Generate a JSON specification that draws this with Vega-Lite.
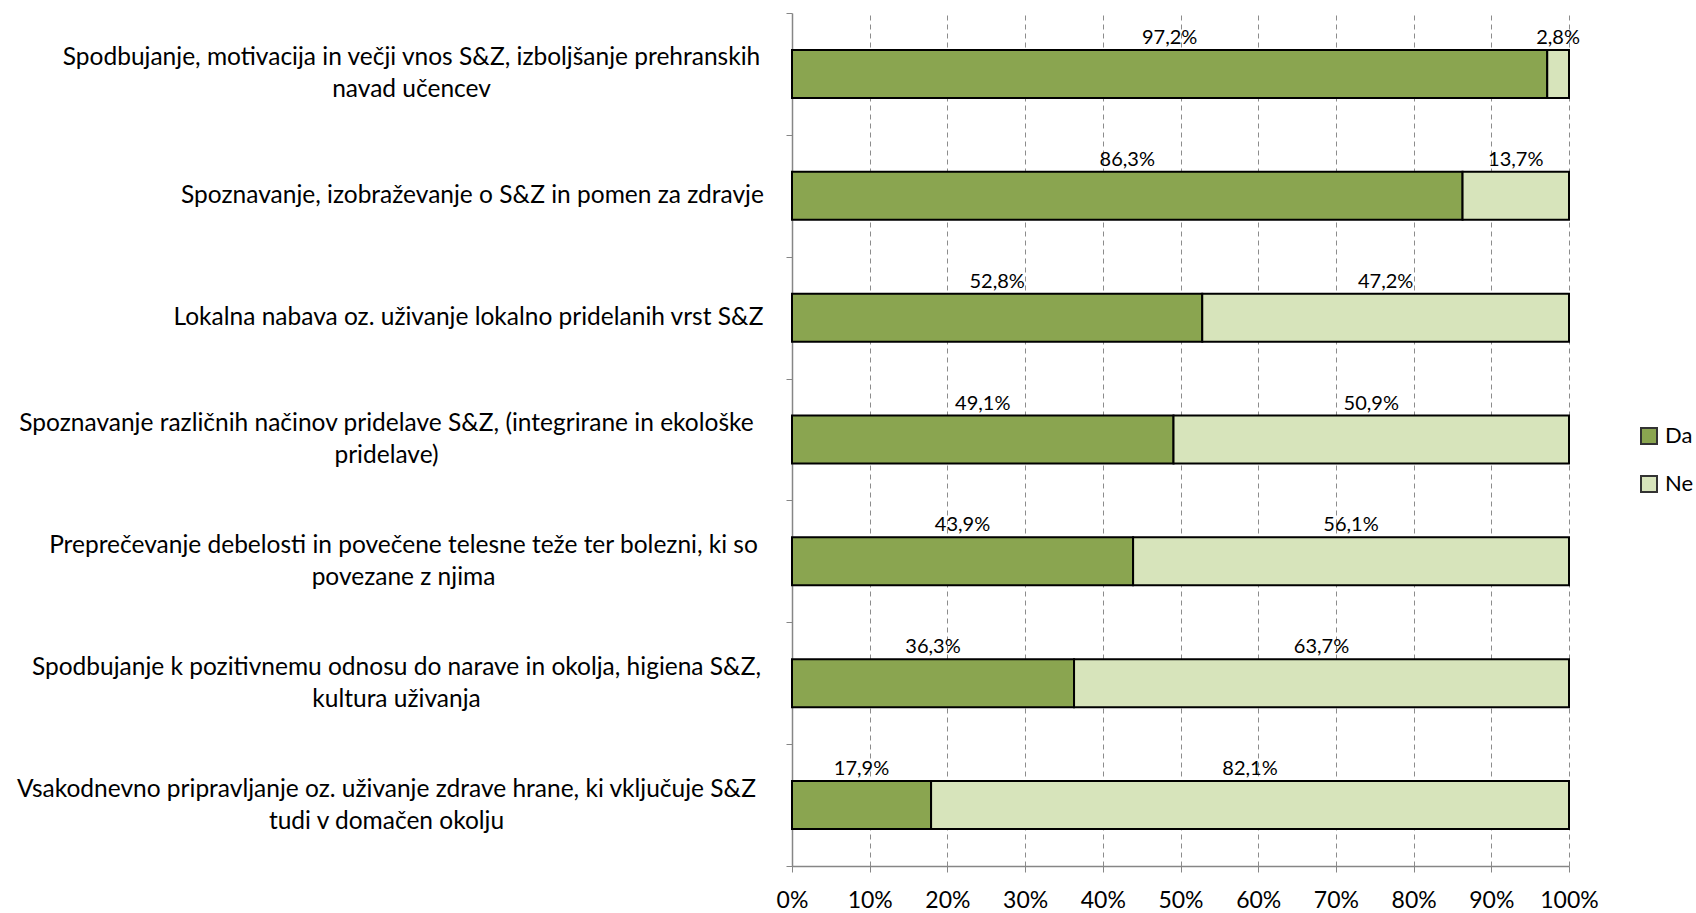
{
  "$schema": "https://vega.github.io/schema/vega-lite/v6.json",
  "width": 777,
  "height": 853,
  "autosize": {"type": "none"},
  "padding": {"left": 792, "top": 13, "right": 127, "bottom": 47},
  "background": "white",
  "config": {"view": {"stroke": null}, "font": "Lato"},
  "data": {
    "values": [
      {"cat": "Spodbujanje, motivacija in večji vnos S&Z, izboljšanje prehranskih|navad učencev", "grp": "Da", "ord": 1, "pct": 97.2},
      {"cat": "Spodbujanje, motivacija in večji vnos S&Z, izboljšanje prehranskih|navad učencev", "grp": "Ne", "ord": 2, "pct": 2.8},
      {"cat": "Spoznavanje, izobraževanje o S&Z in pomen za zdravje", "grp": "Da", "ord": 1, "pct": 86.3},
      {"cat": "Spoznavanje, izobraževanje o S&Z in pomen za zdravje", "grp": "Ne", "ord": 2, "pct": 13.7},
      {"cat": "Lokalna nabava oz. uživanje lokalno pridelanih vrst S&Z", "grp": "Da", "ord": 1, "pct": 52.8},
      {"cat": "Lokalna nabava oz. uživanje lokalno pridelanih vrst S&Z", "grp": "Ne", "ord": 2, "pct": 47.2},
      {"cat": "Spoznavanje različnih načinov pridelave S&Z, (integrirane in ekološke|pridelave)", "grp": "Da", "ord": 1, "pct": 49.1},
      {"cat": "Spoznavanje različnih načinov pridelave S&Z, (integrirane in ekološke|pridelave)", "grp": "Ne", "ord": 2, "pct": 50.9},
      {"cat": "Preprečevanje debelosti  in povečene telesne teže ter bolezni, ki so|povezane z njima", "grp": "Da", "ord": 1, "pct": 43.9},
      {"cat": "Preprečevanje debelosti  in povečene telesne teže ter bolezni, ki so|povezane z njima", "grp": "Ne", "ord": 2, "pct": 56.1},
      {"cat": "Spodbujanje k pozitivnemu odnosu do narave in okolja, higiena S&Z,|kultura uživanja", "grp": "Da", "ord": 1, "pct": 36.3},
      {"cat": "Spodbujanje k pozitivnemu odnosu do narave in okolja, higiena S&Z,|kultura uživanja", "grp": "Ne", "ord": 2, "pct": 63.7},
      {"cat": "Vsakodnevno pripravljanje oz. uživanje zdrave hrane, ki vključuje S&Z|tudi v domačen okolju", "grp": "Da", "ord": 1, "pct": 17.9},
      {"cat": "Vsakodnevno pripravljanje oz. uživanje zdrave hrane, ki vključuje S&Z|tudi v domačen okolju", "grp": "Ne", "ord": 2, "pct": 82.1}
    ]
  },
  "transform": [
    {"stack": "pct", "groupby": ["cat"], "sort": [{"field": "ord", "order": "ascending"}], "as": ["x0", "x1"]},
    {"calculate": "(datum.x0 + datum.x1) / 2", "as": "mid"},
    {"calculate": "replace(format(datum.pct, '.1f'), '.', ',') + '%'", "as": "txt"}
  ],
  "encoding": {
    "y": {
      "field": "cat",
      "type": "nominal",
      "sort": null,
      "scale": {"paddingInner": 0, "paddingOuter": 0},
      "axis": {
        "title": null,
        "labelExpr": "split(datum.label, '|')",
        "labelAlign": "center",
        "labelBaseline": {
          "condition": [
            {"test": "datum.value === 'Spoznavanje, izobraževanje o S&Z in pomen za zdravje'", "value": "middle"},
            {"test": "datum.value === 'Lokalna nabava oz. uživanje lokalno pridelanih vrst S&Z'", "value": "middle"}
          ],
          "value": "line-bottom"
        },
        "labelFont": "Lato",
        "labelFontSize": 24.5,
        "labelColor": "#000000",
        "labelLineHeight": 32,
        "labelLimit": 1000,
        "tickBand": "extent",
        "tickSize": 6,
        "tickColor": "#868686",
        "domainColor": "#868686",
        "domainWidth": 1.5,
        "labelPadding": {
          "condition": [
            {"test": "datum.value === 'Spodbujanje, motivacija in večji vnos S&Z, izboljšanje prehranskih|navad učencev'", "value": 375},
            {"test": "datum.value === 'Spoznavanje, izobraževanje o S&Z in pomen za zdravje'", "value": 314},
            {"test": "datum.value === 'Lokalna nabava oz. uživanje lokalno pridelanih vrst S&Z'", "value": 318},
            {"test": "datum.value === 'Spoznavanje različnih načinov pridelave S&Z, (integrirane in ekološke|pridelave)'", "value": 400},
            {"test": "datum.value === 'Preprečevanje debelosti  in povečene telesne teže ter bolezni, ki so|povezane z njima'", "value": 383},
            {"test": "datum.value === 'Spodbujanje k pozitivnemu odnosu do narave in okolja, higiena S&Z,|kultura uživanja'", "value": 390}
          ],
          "value": 400
        }
      }
    }
  },
  "layer": [
    {
      "mark": {"type": "bar", "stroke": "#000000", "strokeWidth": 2, "height": {"band": 0.394}},
      "encoding": {
        "x": {
          "field": "x0",
          "type": "quantitative",
          "scale": {"domain": [0, 100], "nice": false},
          "axis": {
            "title": null,
            "values": [0, 10, 20, 30, 40, 50, 60, 70, 80, 90, 100],
            "labelExpr": "datum.value + '%'",
            "grid": true,
            "gridDash": [5, 4],
            "gridColor": "#8c8c8c",
            "domainColor": "#868686",
            "domainWidth": 1.5,
            "tickColor": "#868686",
            "tickSize": 6,
            "labelFont": "Lato",
            "labelFontSize": 23,
            "labelColor": "#000000",
            "labelPadding": 17,
            "labelFlush": false
          }
        },
        "x2": {"field": "x1"},
        "color": {
          "field": "grp",
          "type": "nominal",
          "scale": {"domain": ["Da", "Ne"], "range": ["#8aa550", "#d7e4bb"]},
          "legend": {
            "title": null,
            "orient": "none",
            "legendX": 846,
            "legendY": 412,
            "padding": 0,
            "symbolType": "square",
            "symbolSize": 256,
            "symbolStrokeColor": "#333333",
            "symbolStrokeWidth": 2,
            "labelFont": "Lato",
            "labelFontSize": 22,
            "labelColor": "#000000",
            "labelOffset": 5,
            "labelLimit": 40,
            "rowPadding": 24
          }
        }
      }
    },
    {
      "mark": {"type": "text", "baseline": "alphabetic", "dy": -30, "fontSize": 20, "font": "Lato", "color": "#000000"},
      "encoding": {
        "x": {"field": "mid", "type": "quantitative"},
        "text": {"field": "txt"}
      }
    }
  ]
}
